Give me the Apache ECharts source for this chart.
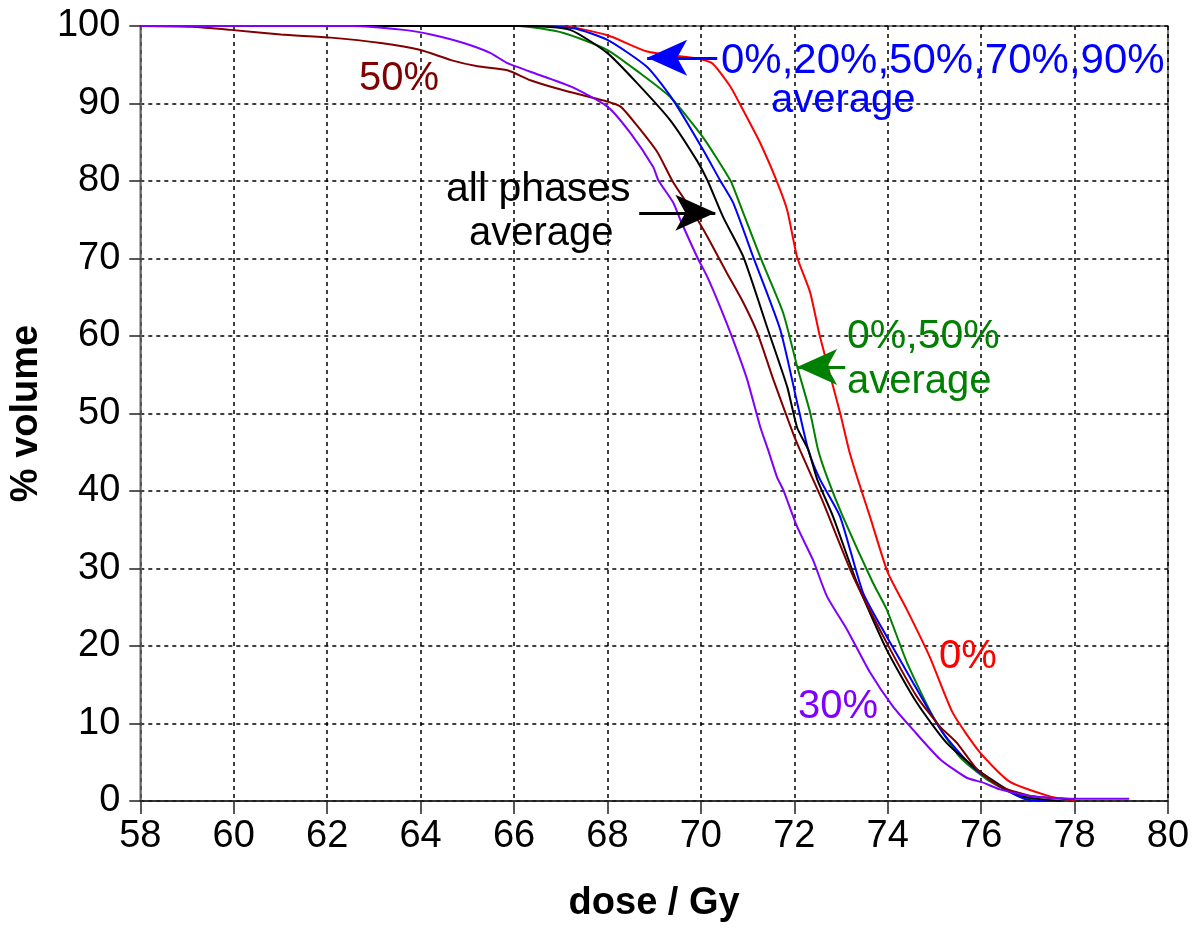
<!DOCTYPE html>
<html>
<head>
<meta charset="utf-8">
<script src="https://cdn.jsdelivr.net/npm/echarts@6/dist/echarts.min.js"></script>
<style>
html,body{margin:0;padding:0;background:#fff;}
#chart{width:1200px;height:948px;}
</style>
</head>
<body>
<div id="chart"></div>
<script>
// x tick values (dose / Gy) and y tick values (% volume)
var xTicks = [58, 60, 62, 64, 66, 68, 70, 72, 74, 76, 78, 80];
var yTicks = [0, 10, 20, 30, 40, 50, 60, 70, 80, 90, 100];

// DVH curves: [dose (Gy), % volume]
var phase0 = [[58,100],[67.0,100],[68.0,98.8],[68.85,96.7],[69.56,96.1],[70.0,95.7],[70.26,95.1],[70.63,92.2],[70.9,89.2],[71.27,84.9],[71.63,79.9],[71.85,76.2],[72.06,70.2],[72.34,65.6],[72.55,59.9],[72.98,50.1],[73.17,45.3],[73.36,41.5],[73.62,36.7],[74.0,29.5],[74.41,24.7],[74.9,18.6],[75.39,11.4],[75.97,6.3],[76.61,2.5],[77.47,0.6],[78.0,0.1]];
var avg0_50 = [[58,100],[66.1,100],[67.06,99.1],[68.0,96.9],[68.7,93.9],[69.35,90.8],[70.05,85.6],[70.63,80.1],[70.78,77.9],[71.27,70.2],[71.76,63.0],[72.06,56.1],[72.34,50.1],[72.51,45.3],[72.72,41.5],[73.04,36.7],[73.68,28.2],[73.98,24.7],[74.41,17.9],[74.97,10.9],[75.54,5.7],[76.12,2.8],[76.82,0.6],[77.47,0]];
var avg0_20_50_70_90 = [[58,100],[66.1,100],[67.27,99.7],[68.0,98.2],[68.85,94.7],[69.41,90.4],[70.05,84.0],[70.41,80.1],[70.69,77.2],[71.12,70.2],[71.7,60.8],[72.08,50.9],[72.3,45.3],[72.55,41.5],[72.98,36.7],[73.47,26.9],[73.98,21.2],[74.54,15.3],[75.18,8.8],[75.82,4.4],[76.4,1.9],[76.97,0.2],[77.7,0]];
var avgAll = [[58,100],[66.35,100],[67.2,99.5],[68.0,96.5],[68.64,92.6],[69.35,87.8],[69.92,82.6],[70.14,80.1],[70.48,75.3],[70.91,70.2],[71.42,61.1],[71.85,53.4],[72.06,48.2],[72.3,45.3],[72.49,41.5],[72.83,36.7],[73.34,28.2],[73.98,19.5],[74.62,12.7],[75.26,7.5],[75.91,4.1],[76.55,1.5],[76.97,0.5],[77.7,0]];
var phase50 = [[58,100],[59.1,99.9],[59.94,99.5],[61.01,98.9],[62.08,98.5],[63.15,97.8],[64.0,96.9],[64.65,95.6],[65.22,94.8],[65.86,94.3],[66.35,93.0],[67.06,91.7],[67.91,90.4],[68.28,89.6],[68.64,87.1],[69.07,83.7],[69.41,79.8],[69.84,75.9],[70.14,72.8],[70.56,68.1],[70.91,64.3],[71.21,60.4],[71.55,54.4],[71.97,47.5],[72.12,45.3],[72.4,41.5],[72.62,38.5],[73.26,29.0],[73.98,20.4],[74.62,13.5],[75.12,9.6],[75.48,7.5],[75.91,4.1],[76.4,1.9],[77.1,0.6],[78.0,0.2]];
var phase30 = [[58,100],[62.5,100],[63.64,99.5],[64.22,98.9],[64.92,97.8],[65.5,96.5],[65.86,95.2],[66.35,94.1],[67.21,92.2],[68.0,89.6],[68.49,86.2],[68.98,81.8],[69.09,80.1],[69.41,77.2],[69.56,75.0],[69.92,70.2],[70.14,67.6],[70.41,63.8],[70.69,59.5],[70.99,54.4],[71.27,48.3],[71.44,45.3],[71.63,41.8],[71.76,40.2],[72.06,35.4],[72.4,31.1],[72.7,26.4],[73.13,22.1],[73.62,16.6],[74.11,12.2],[74.54,9.2],[75.12,5.4],[75.69,3.0],[76.03,2.4],[76.4,1.5],[77.1,0.6],[78.0,0.3],[79.17,0.3]];

// annotation arrows: [tailDose, tipDose, volume]
var arrowBlue = [70.35, 68.85, 95.9];
var arrowBlack = [68.68, 70.31, 75.9];
var arrowGreen = [73.09, 72.06, 56.0];

var FONT = '"Liberation Sans", Arial, sans-serif';

function arrow(a, color) {
  return {
    silent: true,
    symbol: ['none', 'arrow'],
    symbolSize: [27, 40],
    label: {show: false},
    lineStyle: {color: color, width: 3, type: 'solid'},
    emphasis: {disabled: true},
    animation: false,
    data: [[{coord: [a[0], a[2]]}, {coord: [a[1], a[2]]}]]
  };
}

function curve(name, data, color, ml) {
  var s = {
    name: name, type: 'line', data: data, showSymbol: false, symbol: 'none',
    smooth: 0.2,
    lineStyle: {color: color, width: 2}, itemStyle: {color: color},
    animation: false, silent: true
  };
  if (ml) s.markLine = ml;
  return s;
}

function label(text, x, y, color, size) {
  return {type: 'text', silent: true, z: 100,
    style: {text: text, x: x, y: y, font: size + 'px ' + FONT, fill: color, textVerticalAlign: 'middle'}};
}

var chart = echarts.init(document.getElementById('chart'), null, {renderer: 'canvas'});
var option = {
  backgroundColor: '#fff',
  animation: false,
  grid: {left: 139, right: 32, top: 26, bottom: 147, show: true, borderColor: '#555', borderWidth: 1.5, backgroundColor: 'transparent'},
  xAxis: {
    type: 'value', min: xTicks[0], max: xTicks[xTicks.length - 1], interval: 2,
    name: 'dose / Gy', nameLocation: 'middle', nameGap: 84,
    nameTextStyle: {fontFamily: FONT, fontSize: 38, fontWeight: 'bold', color: '#000'},
    axisLine: {show: true, lineStyle: {color: '#222', width: 1.5}},
    axisTick: {show: true, inside: false, length: 13, lineStyle: {color: '#222', width: 1.5}},
    axisLabel: {fontFamily: FONT, fontSize: 38, color: '#000', margin: 17},
    splitLine: {show: true, lineStyle: {color: '#000', width: 1.5, type: [4, 4]}}
  },
  yAxis: {
    type: 'value', min: yTicks[0], max: yTicks[yTicks.length - 1], interval: 10,
    name: '% volume', nameLocation: 'middle', nameGap: 92,
    nameTextStyle: {fontFamily: FONT, fontSize: 38, fontWeight: 'bold', color: '#000'},
    axisLine: {show: true, lineStyle: {color: '#666', width: 1.5}},
    axisTick: {show: true, inside: false, length: 11, lineStyle: {color: '#222', width: 1.5}},
    axisLabel: {fontFamily: FONT, fontSize: 38, color: '#000', margin: 20},
    splitLine: {show: true, lineStyle: {color: '#000', width: 1.5, type: [4, 4]}}
  },
  series: [
    curve('0%', phase0, '#ff0000'),
    curve('0%,50% average', avg0_50, '#008000', arrow(arrowGreen, '#008000')),
    curve('0%,20%,50%,70%,90% average', avg0_20_50_70_90, '#0000ff', arrow(arrowBlue, '#0000ff')),
    curve('all phases average', avgAll, '#000000', arrow(arrowBlack, '#000000')),
    curve('50%', phase50, '#800000'),
    curve('30%', phase30, '#8000ff')
  ],
  graphic: [
    label('50%', 359, 79, '#800000', 40),
    label('0%,20%,50%,70%,90%', 721, 61, '#0000ff', 42),
    label('average', 771, 101, '#0000ff', 40),
    label('all phases', 446, 190, '#000000', 41),
    label('average', 469, 234, '#000000', 40),
    label('0%,50%', 847, 337, '#008000', 41),
    label('average', 847, 382, '#008000', 40),
    label('0%', 939, 657, '#ff0000', 40),
    label('30%', 798, 707, '#8000ff', 40)
  ]
};
chart.setOption(option);
</script>
</body>
</html>
